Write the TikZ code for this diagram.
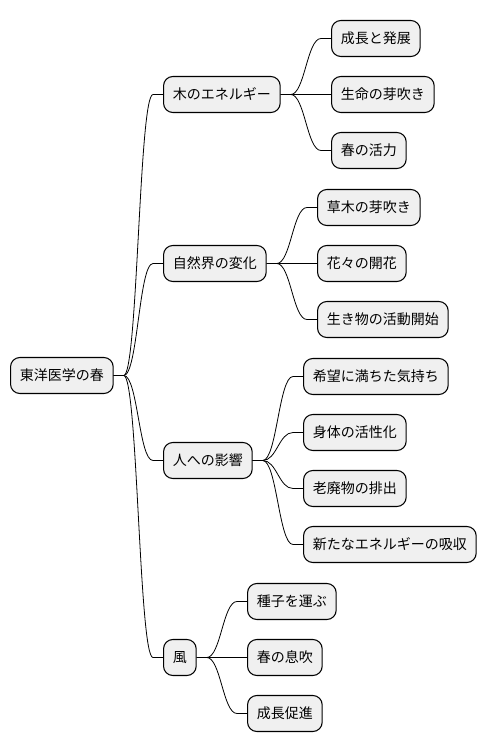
\documentclass[tikz,border=0pt]{standalone}
\usepackage{fontspec}
\setmainfont{Noto Sans CJK JP}
\begin{document}
\begin{tikzpicture}[x=0.75pt, y=-0.75pt, every node/.style={draw, fill=black!6, rounded corners=7pt, line width=0.8pt, anchor=west, minimum height=27pt, inner xsep=7pt, inner ysep=0pt, font=\fontsize{10.5pt}{12pt}\selectfont}]
            \useasboundingbox (0,0) rectangle (488,752);
            \node (root) at (10,375.5) {東洋医学の春};
            \node (wood) at (163,94.5) {木のエネルギー};
            \node (nature) at (163,263.5) {自然界の変化};
            \node (people) at (163,460.5) {人への影響};
            \node (wind) at (163,657.5) {風};
            \node (w1) at (331,38.5) {成長と発展};
            \node (w2) at (331,94.5) {生命の芽吹き};
            \node (w3) at (331,150.5) {春の活力};
            \node (n1) at (317,207.5) {草木の芽吹き};
            \node (n2) at (317,263.5) {花々の開花};
            \node (n3) at (317,319.5) {生き物の活動開始};
            \node (p1) at (303,376.5) {希望に満ちた気持ち};
            \node (p2) at (303,432.5) {身体の活性化};
            \node (p3) at (303,488.5) {老廃物の排出};
            \node (p4) at (303,544.5) {新たなエネルギーの吸収};
            \node (k1) at (247,601.5) {種子を運ぶ};
            \node (k2) at (247,657.5) {春の息吹};
            \node (k3) at (247,713.5) {成長促進};
            \draw[line width=0.6pt] (root.east) -- ++(10,0) .. controls +(14,0) and +(-14,0) .. ([xshift=-7.5pt]wood.west) -- (wood.west);
            \draw[line width=0.6pt] (root.east) -- ++(10,0) .. controls +(14,0) and +(-14,0) .. ([xshift=-7.5pt]nature.west) -- (nature.west);
            \draw[line width=0.6pt] (root.east) -- ++(10,0) .. controls +(14,0) and +(-14,0) .. ([xshift=-7.5pt]people.west) -- (people.west);
            \draw[line width=0.6pt] (root.east) -- ++(10,0) .. controls +(14,0) and +(-14,0) .. ([xshift=-7.5pt]wind.west) -- (wind.west);
            \draw[line width=0.6pt] (wood.east) -- ++(10,0) .. controls +(14,0) and +(-14,0) .. ([xshift=-7.5pt]w1.west) -- (w1.west);
            \draw[line width=0.6pt] (wood.east) -- ++(10,0) .. controls +(14,0) and +(-14,0) .. ([xshift=-7.5pt]w2.west) -- (w2.west);
            \draw[line width=0.6pt] (wood.east) -- ++(10,0) .. controls +(14,0) and +(-14,0) .. ([xshift=-7.5pt]w3.west) -- (w3.west);
            \draw[line width=0.6pt] (nature.east) -- ++(10,0) .. controls +(14,0) and +(-14,0) .. ([xshift=-7.5pt]n1.west) -- (n1.west);
            \draw[line width=0.6pt] (nature.east) -- ++(10,0) .. controls +(14,0) and +(-14,0) .. ([xshift=-7.5pt]n2.west) -- (n2.west);
            \draw[line width=0.6pt] (nature.east) -- ++(10,0) .. controls +(14,0) and +(-14,0) .. ([xshift=-7.5pt]n3.west) -- (n3.west);
            \draw[line width=0.6pt] (people.east) -- ++(10,0) .. controls +(14,0) and +(-14,0) .. ([xshift=-7.5pt]p1.west) -- (p1.west);
            \draw[line width=0.6pt] (people.east) -- ++(10,0) .. controls +(14,0) and +(-14,0) .. ([xshift=-7.5pt]p2.west) -- (p2.west);
            \draw[line width=0.6pt] (people.east) -- ++(10,0) .. controls +(14,0) and +(-14,0) .. ([xshift=-7.5pt]p3.west) -- (p3.west);
            \draw[line width=0.6pt] (people.east) -- ++(10,0) .. controls +(14,0) and +(-14,0) .. ([xshift=-7.5pt]p4.west) -- (p4.west);
            \draw[line width=0.6pt] (wind.east) -- ++(10,0) .. controls +(14,0) and +(-14,0) .. ([xshift=-7.5pt]k1.west) -- (k1.west);
            \draw[line width=0.6pt] (wind.east) -- ++(10,0) .. controls +(14,0) and +(-14,0) .. ([xshift=-7.5pt]k2.west) -- (k2.west);
            \draw[line width=0.6pt] (wind.east) -- ++(10,0) .. controls +(14,0) and +(-14,0) .. ([xshift=-7.5pt]k3.west) -- (k3.west);
        \end{tikzpicture}
\end{document}
